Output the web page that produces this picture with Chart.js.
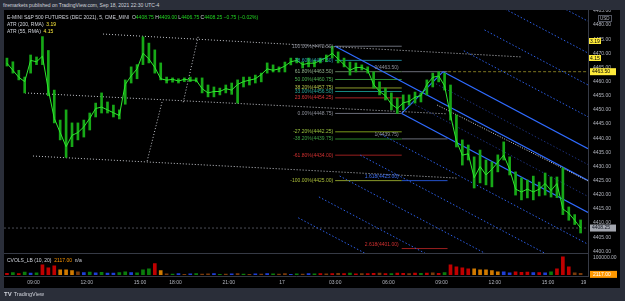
<!DOCTYPE html>
<html>
<head>
<meta charset="utf-8">
<script src="https://cdn.jsdelivr.net/npm/chart.js@4.4.0/dist/chart.umd.min.js"></script>
<style>
  html, body { margin: 0; padding: 0; width: 625px; height: 301px; overflow: hidden; background: #2a2e39;
    font-family: "Liberation Sans", Arial, sans-serif; }
  #header { position: absolute; left: 3px; top: 2px; font-size: 5px; line-height: 6px; color: #d1d4dc; white-space: nowrap; }
  #wrap { position: absolute; left: 4px; top: 10px; width: 616px; height: 278px; background: #000; }
  #priceBox { position: absolute; left: 0; top: 0; width: 616px; height: 245px; }
  #volBox { position: absolute; left: 0; top: 243px; width: 616px; height: 35px; }
  #sep { position: absolute; left: 0; top: 243px; width: 584px; height: 1px; background: #363a45; }
  .lg { position: absolute; font-size: 5px; line-height: 6px; color: #d1d4dc; white-space: nowrap; }
  .g { color: #22d422; }
  .yl { color: #ffeb3b; }
  .or { color: #ff9800; }
  .box { position: absolute; font-size: 5px; line-height: 6px; height: 6px; padding: 0 1px; color: #000; background: #ffeb3b; }
  #usd { position: absolute; left: 594px; top: 5px; font-size: 4.5px; line-height: 5px; color: #b2b5be;
    border: 1px solid #50535e; padding: 0 1px; }
  #footer { position: absolute; left: 4px; top: 291px; font-size: 5.5px; line-height: 6px; color: #d1d4dc; white-space: nowrap; }
  #footer b { font-size: 6px; margin-right: 2px; }
</style>
</head>
<body>
<div id="header">firemarkets published on TradingView.com, Sep 18, 2021 22:30 UTC-4</div>
<div id="wrap">
  <div id="priceBox"><canvas id="priceChart"></canvas></div>
  <div id="volBox"><canvas id="volChart"></canvas></div>
  <div id="sep"></div>
  <div class="lg" style="left:3px; top:4px;">E-MINI S&amp;P 500 FUTURES (DEC 2021), 5, CME_MINI&nbsp; O<span class="g">4408.75</span> H<span class="g">4409.00</span> L<span class="g">4406.75</span> C<span class="g">4408.25</span> <span class="g">&minus;0.75 (&minus;0.02%)</span></div>
  <div class="lg" style="left:3px; top:11px;">ATR (200, RMA)&nbsp; <span class="yl">3.19</span></div>
  <div class="lg" style="left:3px; top:18px;">ATR (55, RMA)&nbsp; <span class="yl">4.15</span></div>
  <div class="lg" style="left:3px; top:247px;">CVOLS_LB (10, 20)&nbsp; <span class="or">2117.00</span>&nbsp; n/a</div>
  <div id="usd">USD</div>
  <div class="box" style="left:585px; top:28px;">3.19</div>
  <div class="box" style="left:585px; top:45px;">4.15</div>
</div>
<div id="footer"><b>TV</b>TradingView</div>

<script>
// ---- price data, one sample every 4 bars (5 min bars) ----
const priceHigh = [
  4468.3, 4467.0, 4464.0, 4461.6, 4469.4, 4468.7, 4475.9, 4471.0, 4457.0, 4446.4,
  4450.0, 4445.4, 4445.4, 4446.4, 4448.9, 4452.4, 4456.0, 4452.8, 4451.7, 4450.0,
  4460.6, 4465.2, 4466.0, 4475.8, 4473.6, 4471.2, 4466.6, 4461.6, 4461.3, 4461.0,
  4461.3, 4461.6, 4461.3, 4461.3, 4458.8, 4458.1, 4457.7, 4458.8, 4459.5, 4460.6,
  4461.6, 4461.6, 4462.3, 4463.0, 4466.6, 4465.9, 4465.2, 4466.9, 4468.3, 4468.3,
  4466.9, 4468.3, 4467.6, 4468.3, 4469.4, 4472.5, 4470.5, 4468.3, 4466.9, 4466.6,
  4465.9, 4465.2, 4463.4, 4459.9, 4457.7, 4456.0, 4454.2, 4455.3, 4455.3, 4456.3,
  4456.0, 4460.6, 4463.0, 4463.5, 4463.0, 4458.8, 4448.2, 4439.4, 4437.6, 4433.4,
  4435.8, 4432.3, 4431.6, 4434.1, 4438.7, 4433.4, 4428.1, 4426.0, 4425.2, 4426.6,
  4424.5, 4427.7, 4426.3, 4426.3, 4429.5, 4415.7, 4413.0, 4411.1
];
const priceLow = [
  4465.5, 4463.0, 4460.6, 4456.0, 4463.0, 4466.0, 4466.0, 4455.0, 4445.4, 4439.4,
  4433.2, 4437.0, 4439.4, 4440.4, 4442.9, 4447.5, 4448.9, 4448.9, 4447.5, 4446.8,
  4452.0, 4459.5, 4461.0, 4466.0, 4466.6, 4463.0, 4460.6, 4459.5, 4459.8, 4459.5,
  4460.0, 4460.0, 4459.9, 4456.0, 4454.6, 4454.6, 4455.3, 4456.0, 4455.5, 4452.4,
  4458.1, 4458.8, 4459.5, 4459.9, 4463.0, 4463.4, 4463.4, 4463.4, 4465.9, 4466.6,
  4464.8, 4465.2, 4465.2, 4466.6, 4467.0, 4468.3, 4466.6, 4465.2, 4462.3, 4463.4,
  4464.1, 4463.0, 4457.7, 4455.3, 4453.5, 4450.0, 4448.75, 4450.0, 4451.7, 4452.4,
  4452.8, 4455.3, 4458.1, 4459.9, 4457.0, 4446.4, 4436.9, 4430.5, 4432.3, 4422.4,
  4424.2, 4423.5, 4422.8, 4428.1, 4432.3, 4427.0, 4419.9, 4418.2, 4418.9, 4418.2,
  4419.6, 4419.9, 4419.2, 4419.0, 4413.0, 4411.0, 4409.5, 4406.5
];
const priceClose = [
  4466.5, 4464.0, 4461.5, 4460.0, 4467.5, 4467.0, 4469.0, 4457.0, 4447.0, 4442.0,
  4437.0, 4441.0, 4442.0, 4444.0, 4447.0, 4450.5, 4451.0, 4450.0, 4449.0, 4448.0,
  4459.0, 4462.0, 4464.5, 4470.0, 4468.0, 4465.0, 4461.0, 4460.5, 4460.8, 4460.2,
  4460.8, 4460.5, 4460.5, 4457.5, 4456.0, 4456.5, 4456.5, 4457.5, 4457.0, 4459.0,
  4460.0, 4460.5, 4461.0, 4462.5, 4464.5, 4464.0, 4464.5, 4465.5, 4467.0, 4467.5,
  4466.0, 4466.5, 4466.5, 4467.5, 4468.5, 4470.0, 4468.0, 4466.0, 4464.0, 4465.0,
  4465.0, 4464.0, 4459.0, 4456.5, 4455.0, 4452.0, 4450.5, 4452.5, 4453.0, 4454.5,
  4455.0, 4459.0, 4461.5, 4462.0, 4458.5, 4448.0, 4439.0, 4434.0, 4434.5, 4426.0,
  4430.0, 4427.0, 4429.0, 4431.5, 4434.0, 4429.0, 4422.0, 4421.0, 4422.0, 4421.0,
  4422.0, 4424.0, 4421.5, 4424.0, 4415.0, 4413.5, 4411.0, 4408.25
];
const volume = [
  8000, 12000, 6000, 15000, 9000, 11000, 57000, 40000, 51000, 28000,
  28000, 23000, 17000, 12000, 15000, 11000, 14000, 10000, 9000, 12000,
  16000, 13000, 11000, 28000, 34000, 63000, 23000, 5000, 4000, 6000,
  3000, 5000, 7000, 4000, 5000, 6000, 3000, 4000, 5000, 6000,
  4000, 3000, 5000, 4000, 6000, 5000, 4000, 7000, 3000, 5000,
  4000, 6000, 5000, 6000, 5000, 7000, 8000, 6000, 9000, 5000,
  7000, 6000, 8000, 10000, 7000, 6000, 9000, 8000, 7000, 10000,
  8000, 9000, 11000, 8000, 12000, 57000, 45000, 40000, 34000, 34000,
  28000, 28000, 23000, 17000, 17000, 11000, 17000, 14000, 15000, 12000,
  13000, 11000, 16000, 34000, 102000, 45000, 11000, 8000
];
// r red, o orange, g green, b blue, n brown
const volumeTone = [
  'rgrgbgrrro', 'oonbgbgbbg', 'gbgggrongb', 'nbgnnbgnbn', 'gnbnbgnnbg',
  'nbgrnrnrgr', 'nrrnrgrrnr', 'grnrgrrrro', 'oooobbrrrb', 'rbgrrrnn'
].join('').split('');

// ---- axes ----
const priceMin = 4399.43, priceMax = 4485.3;
const priceTicks = [4400, 4405, 4410, 4415, 4420, 4425, 4430, 4435, 4440, 4445, 4450, 4455, 4460, 4465, 4470, 4475, 4480, 4485];
const barMax = 395;
const timeTickIdx = [20, 56, 92, 116, 152, 188, 224, 260, 296, 332, 368, 392];
const timeLabels = ['09:00', '12:00', '15:00', '18:00', '21:00', '17', '03:00', '06:00', '09:00', '12:00', '15:00', '19'];

// ---- drawings: [barIdx1, price1, barIdx2, price2] ----
const channelLines = [
  [67, 4476.8, 350.5, 4468.7],
  [14.2, 4456.0, 299.7, 4448.6],
  [19.6, 4433.7, 306.5, 4425.9],
  [131.3, 4475.8, 121.1, 4452.4],
  [106.9, 4452.8, 96.8, 4431.9]
];
const trendDotted = [[293, 4451.7, 395, 4424.9]];
const pitchSolid = [
  [224, 4472.5, 395, 4425.04],
  [297, 4463.5, 395, 4436.3],
  [269, 4448.75, 395, 4413.78],
  [269, 4448.75, 297, 4463.5]
];
const pitchInner = [
  [290, 4459.81, 395, 4430.67],
  [276, 4452.44, 395, 4419.41]
];
const pitchOuter = [
  [311, 4470.88, 395, 4447.57],
  [325, 4478.25, 395, 4458.82],
  [339, 4485.63, 395, 4470.09],
  [353, 4493.0, 395, 4481.34],
  [255, 4441.38, 395, 4402.52],
  [241, 4434.0, 395, 4391.26],
  [227, 4426.63, 395, 4380.0],
  [213, 4419.25, 395, 4368.74],
  [199, 4411.88, 395, 4357.48]
];
const fibStart = 224, fibEnd = 269;
const fibLevels = ['100.00%', '78.60%', '61.80%', '50.00%', '38.20%', '33.00%', '23.60%', '0.00%', '-27.20%', '-38.20%', '-61.80%', '-100.00%'];
const fibPrices = [4472.5, 4467.5, 4463.5, 4460.75, 4457.75, 4456.5, 4454.25, 4448.75, 4442.25, 4439.75, 4434.0, 4425.0];
const fibLineColors = ['#6a6d78', '#1d7d92', '#5f7d5c', '#2e8b3a', '#8c9a2a', '#178a82', '#a82424', '#6a6d78', '#7a9a1a', '#1d5a1d', '#9a1f1f', '#8a9a2a'];
const fibTextColors = ['#8f929c', '#2a9bb0', '#8fae8a', '#4caf50', '#b4c24a', '#26a69a', '#d83535', '#8f929c', '#9bc53d', '#3f9f44', '#d03030', '#aabd3a'];
const extStart = 269, extEnd = 300;
const extLevels = ['0', '1', '1.618', '2.618'];
const extPrices = [4463.5, 4439.75, 4425.0, 4401.0];
const extLineColors = ['#6a6d78', '#6a6d78', '#2450c8', '#9a1f1f'];
const extTextColors = ['#8f929c', '#8f929c', '#3d6df0', '#d03030'];
const oliveLine = [297, 4463.5, 395, 4463.5];
const lastPrice = 4408.25;
const lastVolume = 2117;

const barIdx = priceHigh.map((v, k) => 4 * k + 2);
const toneColor = { r: '#c00000', o: '#d07a00', g: '#0b7d0b', b: '#1e3fd8', n: '#7a3a0a' };
const FONT = '"Liberation Sans", Arial, sans-serif';

function seg(s, color, dash, width) {
  return {
    type: 'line',
    data: [{ x: s[0], y: s[1] }, { x: s[2], y: s[3] }],
    borderColor: color, borderWidth: width || 1, borderDash: dash || [],
    pointRadius: 0, fill: false, order: 5
  };
}

const drawSets = [];
channelLines.forEach(s => drawSets.push(seg(s, '#c4c6cc', [1, 2])));
trendDotted.forEach(s => drawSets.push(seg(s, '#d0d0d0', [1, 1.5])));
pitchOuter.forEach(s => drawSets.push(seg(s, '#2c5ee6', [1.5, 2])));
pitchInner.forEach(s => drawSets.push(seg(s, '#1c2f78', [1.5, 2])));
pitchSolid.forEach(s => drawSets.push(seg(s, '#2f6bff', [], 1.2)));
fibPrices.forEach((p, i) => drawSets.push(seg([fibStart, p, fibEnd, p], fibLineColors[i], [], i === 9 ? 1.5 : 1)));
extPrices.forEach((p, i) => drawSets.push(seg([extStart, p, extEnd, p], extLineColors[i])));
drawSets.push(seg(oliveLine, '#7d7420', [3, 2]));
drawSets.push(seg([0, lastPrice, barMax, lastPrice], '#4a4d55', [2, 2]));

const priceOverlay = {
  id: 'priceOverlay',
  afterDraw(chart) {
    const { ctx, chartArea } = chart;
    const x = chart.scales.x, y = chart.scales.y;
    ctx.save();
    ctx.font = '5px ' + FONT;
    ctx.textBaseline = 'middle';
    ctx.textAlign = 'right';
    fibPrices.forEach((p, i) => {
      ctx.fillStyle = fibTextColors[i];
      ctx.fillText(fibLevels[i] + '(' + p.toFixed(2) + ')', x.getPixelForValue(fibStart) - 2, y.getPixelForValue(p));
    });
    extPrices.forEach((p, i) => {
      ctx.fillStyle = extTextColors[i];
      ctx.fillText(extLevels[i] + '(' + p.toFixed(2) + ')', x.getPixelForValue(extStart) - 3, y.getPixelForValue(p) - 4);
    });
    ctx.textAlign = 'left';
    [[oliveLine[1], '#ffeb3b', '#000'], [lastPrice, '#a3a6af', '#131722']].forEach(m => {
      const py = y.getPixelForValue(m[0]);
      ctx.fillStyle = m[1];
      ctx.fillRect(chartArea.right + 2, py - 3.5, 26, 7);
      ctx.fillStyle = m[2];
      ctx.fillText(m[0].toFixed(2), chartArea.right + 4, py);
    });
    ctx.restore();
  }
};

const volOverlay = {
  id: 'volOverlay',
  afterDraw(chart) {
    const { ctx, chartArea } = chart;
    const y = chart.scales.y;
    const py = y.getPixelForValue(lastVolume);
    ctx.save();
    ctx.fillStyle = '#ff9800';
    ctx.fillRect(chartArea.right + 2, py - 3.5, 27, 7);
    ctx.fillStyle = '#ffffff';
    ctx.font = '5px ' + FONT;
    ctx.textBaseline = 'middle';
    ctx.fillText(lastVolume.toFixed(2), chartArea.right + 5, py);
    ctx.restore();
  }
};

function rightAxis(min, max, ticks, fmt) {
  return {
    position: 'right', min: min, max: max,
    grid: { display: false, drawTicks: false },
    border: { display: true, color: '#363a45' },
    ticks: { color: '#b2b5be', font: { size: 5, family: FONT }, padding: 5, callback: fmt },
    afterBuildTicks: s => { s.ticks = ticks.map(v => ({ value: v })); },
    afterFit: s => { s.width = 32; s.paddingTop = 0; s.paddingBottom = 0; }
  };
}

new Chart(document.getElementById('priceChart'), {
  type: 'bar',
  data: {
    datasets: [
      {
        type: 'line',
        data: barIdx.map((x, k) => ({ x: x, y: priceClose[k] })),
        borderColor: '#2ee82e', borderWidth: 1, pointRadius: 0, order: 0
      },
      {
        data: barIdx.map((x, k) => ({ x: x, y: [priceLow[k], priceHigh[k]] })),
        backgroundColor: '#17a817', barThickness: 2, order: 1
      }
    ].concat(drawSets)
  },
  options: {
    animation: false, responsive: true, maintainAspectRatio: false,
    layout: { padding: { top: 0, bottom: 2, left: 0, right: 0 } },
    plugins: { legend: { display: false }, tooltip: { enabled: false } },
    scales: {
      x: { type: 'linear', min: 0, max: barMax, offset: false, display: false, grid: { offset: false } },
      y: rightAxis(priceMin, priceMax, priceTicks, v => v.toFixed(2))
    }
  },
  plugins: [priceOverlay]
});

new Chart(document.getElementById('volChart'), {
  type: 'bar',
  data: {
    datasets: [{
      data: barIdx.map((x, k) => ({ x: x, y: volume[k] })),
      backgroundColor: barIdx.map((x, k) => toneColor[volumeTone[k]]),
      barThickness: 3
    }]
  },
  options: {
    animation: false, responsive: true, maintainAspectRatio: false,
    layout: { padding: { top: 1, bottom: 0, left: 0, right: 0 } },
    plugins: { legend: { display: false }, tooltip: { enabled: false } },
    scales: {
      x: {
        type: 'linear', min: 0, max: barMax, offset: false,
        grid: { display: false, drawTicks: false, offset: false },
        border: { display: true, color: '#363a45' },
        ticks: { color: '#b2b5be', font: { size: 5, family: FONT }, padding: 3, maxRotation: 0, autoSkip: false,
          callback: (v, i) => timeLabels[i] },
        afterBuildTicks: s => { s.ticks = timeTickIdx.map(v => ({ value: v })); },
        afterFit: s => { s.height = 11.5; }
      },
      y: rightAxis(-10000, 118000, [100000], v => v.toFixed(2))
    }
  },
  plugins: [volOverlay]
});
</script>
</body>
</html>
